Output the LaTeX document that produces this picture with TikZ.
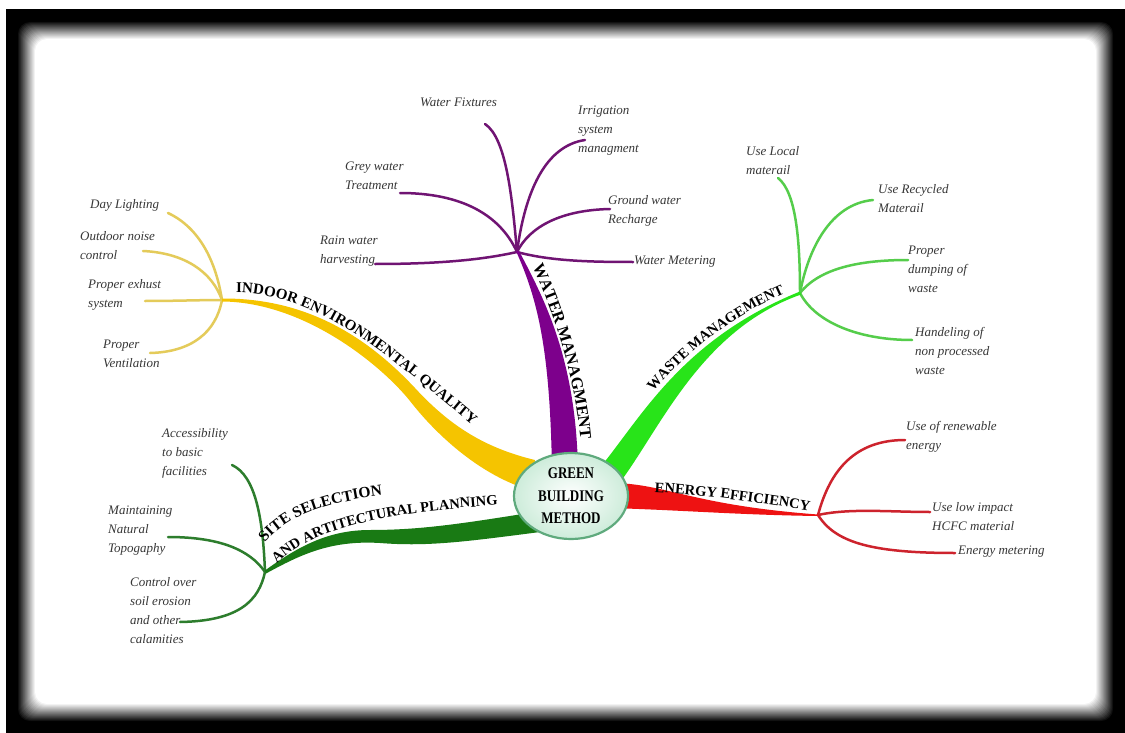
\documentclass[tikz,border=0pt]{standalone}
\usepackage{fontspec}
\usepackage{graphicx}
\setmainfont{Liberation Serif}
\usetikzlibrary{shapes.geometric,decorations.text}

\definecolor{ieq}{RGB}{245,196,0}
\definecolor{ieqleaf}{RGB}{228,203,90}
\definecolor{wat}{RGB}{125,0,140}
\definecolor{watleaf}{RGB}{112,20,115}
\definecolor{wst}{RGB}{40,228,25}
\definecolor{wstleaf}{RGB}{85,205,75}
\definecolor{nrg}{RGB}{238,18,18}
\definecolor{nrgleaf}{RGB}{205,35,45}
\definecolor{sit}{RGB}{25,122,20}
\definecolor{sitleaf}{RGB}{45,125,45}
\definecolor{rim}{RGB}{95,170,125}
\definecolor{mint}{RGB}{205,236,218}
\definecolor{leaftext}{RGB}{55,55,55}

\newcommand\lblfont{\fontsize{14.5}{17}\selectfont\bfseries}
\newcommand\biglblfont{\fontsize{16.5}{19}\selectfont\bfseries}
\newcommand\tallline[1]{\scalebox{1}[1.25]{#1}}

\tikzset{
  leaftxt/.style={anchor=north west, inner sep=0pt, align=left, text=leaftext,
    font=\fontsize{13}{19}\selectfont\itshape},
  leaf/.style={line width=2.5pt, line cap=round},
  lbl/.style={decorate, decoration={text along path, text={#1}}},
  hubnode/.style={ellipse, draw=rim, line width=2.2pt, inner color=white, outer color=mint,
    minimum width=114pt, minimum height=86pt, inner sep=0pt, align=center,
    font=\fontsize{13}{22.5}\selectfont\bfseries}
}

\begin{document}
\begin{tikzpicture}[x=1pt,y=-1pt]
\useasboundingbox (0,0) rectangle (1125,733);
\fill[white] (0,0) rectangle (1125,733);
% frame
\fill[black] (6,9) rectangle (1125,733);
\foreach \i in {0,...,18} {
  \pgfmathtruncatemacro\p{100*(1-\i/18)}
  \fill[black!\p!white, rounded corners=12pt] (17+\i,21+\i) rectangle (1114-\i,722-\i);
}

% hubs
\coordinate (yh) at (222,300);
\coordinate (wh) at (517,252);
\coordinate (gh) at (800,293);
\coordinate (rh) at (818,515);
\coordinate (sh) at (265,572);

% leaf ends
\coordinate (dlE) at (168,213);
\coordinate (onE) at (143,251);
\coordinate (peE) at (145,301);
\coordinate (pvE) at (150,353);
\coordinate (wfE) at (485,124);
\coordinate (irE) at (585,140);
\coordinate (gwE) at (400,193);
\coordinate (grE) at (610,209);
\coordinate (rwE) at (375,264);
\coordinate (wmE) at (633,262);
\coordinate (ulE) at (778,178);
\coordinate (urE) at (873,200);
\coordinate (pdE) at (908,260);
\coordinate (hnE) at (912,340);
\coordinate (reE) at (905,440);
\coordinate (liE) at (930,512);
\coordinate (emE) at (955,553);
\coordinate (acE) at (232,465);
\coordinate (mnE) at (168,537);
\coordinate (coE) at (180,622);

% leaves
\draw[leaf, ieqleaf] (dlE) .. controls (200,228) and (216,262) .. (yh);
\draw[leaf, ieqleaf] (onE) .. controls (185,253) and (212,272) .. (yh);
\draw[leaf, ieqleaf] (peE) .. controls (175,301) and (200,300) .. (yh);
\draw[leaf, ieqleaf] (pvE) .. controls (192,352) and (216,332) .. (yh);

\draw[leaf, watleaf] (wfE) .. controls (506,138) and (512,195) .. (wh);
\draw[leaf, watleaf] (irE) .. controls (545,146) and (525,192) .. (wh);
\draw[leaf, watleaf] (gwE) .. controls (462,193) and (500,215) .. (wh);
\draw[leaf, watleaf] (grE) .. controls (562,210) and (530,226) .. (wh);
\draw[leaf, watleaf] (rwE) .. controls (450,264) and (490,258) .. (wh);
\draw[leaf, watleaf] (wh) .. controls (550,261) and (590,262) .. (wmE);

\draw[leaf, wstleaf] (ulE) .. controls (796,192) and (800,240) .. (gh);
\draw[leaf, wstleaf] (urE) .. controls (830,204) and (808,250) .. (gh);
\draw[leaf, wstleaf] (pdE) .. controls (860,260) and (820,268) .. (gh);
\draw[leaf, wstleaf] (hnE) .. controls (858,340) and (815,322) .. (gh);

\draw[leaf, nrgleaf] (rh) .. controls (830,470) and (855,440) .. (reE);
\draw[leaf, nrgleaf] (rh) .. controls (850,508) and (890,512) .. (liE);
\draw[leaf, nrgleaf] (rh) .. controls (835,542) and (870,553) .. (emE);

\draw[leaf, sitleaf] (acE) .. controls (256,476) and (263,520) .. (sh);
\draw[leaf, sitleaf] (mnE) .. controls (220,537) and (250,550) .. (sh);
\draw[leaf, sitleaf] (coE) .. controls (240,621) and (259,600) .. (sh);

% ribbons
\fill[ieq] (222,298.5) .. controls (310,298) and (370,340) .. (415,388)
  .. controls (450,426) and (485,448) .. (535,460) -- (530,490)
  .. controls (482,476) and (438,437) .. (410,401)
  .. controls (382,366) and (305,302) .. (222,301.5) -- cycle;
\fill[wat] (516,251) .. controls (538,300) and (550,350) .. (552,470) -- (578,470)
  .. controls (576,360) and (545,300) .. (519,251) -- cycle;
\fill[wst] (800,291.5) .. controls (680,340) and (640,420) .. (598,470) -- (618,485)
  .. controls (660,430) and (700,330) .. (801,294.5) -- cycle;
\fill[nrg] (610,483) .. controls (665,483) and (690,505) .. (818,514.5) -- (818,516)
  .. controls (740,515) and (680,510) .. (610,508) -- cycle;
\fill[sit] (265,570.5) .. controls (300,545) and (330,530) .. (370,530)
  .. controls (420,530) and (460,524) .. (535,512) -- (548,531)
  .. controls (470,541) and (430,547) .. (380,543)
  .. controls (330,540) and (300,555) .. (266,573.5) -- cycle;

% centre
\node[hubnode] (c) at (571,496) {\tallline{GREEN}\\\tallline{BUILDING}\\\tallline{METHOD}};

% branch labels
\path[lbl={|\fontsize{15}{17}\selectfont\bfseries|INDOOR ENVIRONMENTAL QUALITY}]
  (236,293) .. controls (326,292) and (408,374) .. (492,441);
\path[lbl={|\biglblfont|WATER MANAGMENT}, decoration={text align=center}]
  (525,250) .. controls (548,300) and (576,365) .. (582,458);
\path[lbl={|\lblfont|WASTE MANAGEMENT}, decoration={text align={left indent=88pt}}]
  (597,459) .. controls (637,417) and (677,337) .. (797,288);
\path[lbl={|\lblfont|ENERGY EFFICIENCY}, decoration={text align=center}]
  (652,492) .. controls (700,494) and (760,503) .. (812,511);
\path[lbl={|\fontsize{15.5}{17}\selectfont\bfseries|SITE SELECTION}]
  (265,543) .. controls (291,511) and (340,497) .. (430,491);
\path[lbl={|\lblfont|AND ARTITECTURAL PLANNING}]
  (277,564) .. controls (311,529) and (380,511) .. (530,503);

% leaf texts
\node[leaftxt] (wf) at (420,98) {Water Fixtures};
\node[leaftxt] (ir) at (578,106) {Irrigation\\system\\managment};
\node[leaftxt] (gw) at (345,162) {Grey water\\Treatment};
\node[leaftxt] (gr) at (608,195) {Ground water\\Recharge};
\node[leaftxt] (rw) at (320,236) {Rain water\\harvesting};
\node[leaftxt] (wm) at (634,256) {Water Metering};
\node[leaftxt] (dl) at (90,199) {Day Lighting};
\node[leaftxt] (on) at (80,231) {Outdoor noise\\control};
\node[leaftxt] (pe) at (88,279) {Proper exhust\\system};
\node[leaftxt] (pv) at (103,340) {Proper\\Ventilation};
\node[leaftxt] (ul) at (746,146) {Use Local\\materail};
\node[leaftxt] (ur) at (878,184) {Use Recycled\\Materail};
\node[leaftxt] (pd) at (908,246) {Proper\\dumping of\\waste};
\node[leaftxt] (hn) at (915,327) {Handeling of\\non processed\\waste};
\node[leaftxt] (re) at (906,421) {Use of renewable\\energy};
\node[leaftxt] (li) at (932,502) {Use low impact\\HCFC material};
\node[leaftxt] (em) at (958,546) {Energy metering};
\node[leaftxt] (ac) at (162,428) {Accessibility\\to basic\\facilities};
\node[leaftxt] (mn) at (108,506) {Maintaining\\Natural\\Topogaphy};
\node[leaftxt] (co) at (130,577) {Control over\\soil erosion\\and other\\calamities};
\end{tikzpicture}
\end{document}
